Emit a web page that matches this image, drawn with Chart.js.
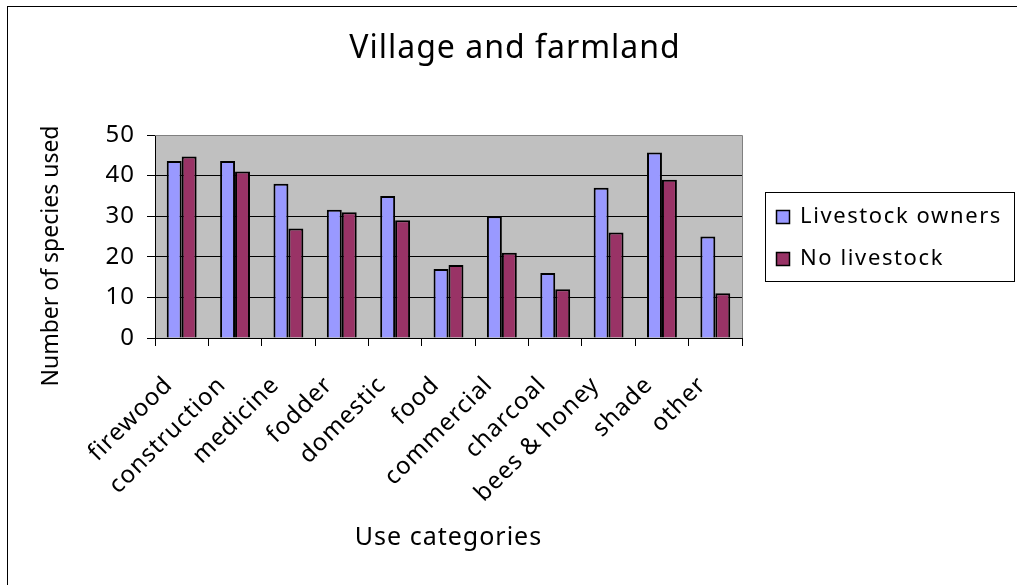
<!DOCTYPE html>
<html>
<head>
<meta charset="utf-8">
<script src="https://cdn.jsdelivr.net/npm/chart.js@4"></script>
<style>
    html, body { margin: 0; padding: 0; background: #fff; overflow: hidden; }
    #wrap { position: relative; width: 1017px; height: 585px; }
</style>
</head>
<body>
<div id="wrap"><canvas id="useChart" width="1017" height="585"></canvas></div>
<script>
// Data
const categories = ['firewood', 'construction', 'medicine', 'fodder', 'domestic', 'food',
    'commercial', 'charcoal', 'bees & honey', 'shade', 'other'];
const livestockOwners = [43.6, 43.6, 38, 31.6, 35, 17, 30, 16, 37, 45.7, 25];
const noLivestock = [44.7, 41, 27, 31, 29, 18, 21, 12, 26, 39, 11];
const yTicks = [0, 10, 20, 30, 40, 50];
const chartTitle = 'Village and farmland';
const yTitle = 'Number of species used';

const colors = {
    owners: '#9999FF',
    none: '#993366',
    plotBg: '#C0C0C0',
    border: '#808080',
    text: '#000000'
};
const FONT = "'Noto Sans', sans-serif";

// Plot background, outer frame, titles and legend box
const decorations = {
    id: 'decorations',
    beforeLayout(chart) {
        chart.ctx.letterSpacing = '1px';
    },
    beforeDraw(chart) {
        const { ctx, chartArea: a } = chart;
        ctx.letterSpacing = '1px';
        ctx.save();
        ctx.fillStyle = colors.plotBg;
        ctx.fillRect(a.left, a.top, a.right - a.left, a.bottom - a.top);
        ctx.strokeStyle = '#000';
        ctx.lineWidth = 1;
        ctx.strokeRect(7.5, 6.5, 1200, 800);
        ctx.restore();
    },
    afterDraw(chart) {
        const { ctx, chartArea: a } = chart;
        ctx.save();
        // top / right plot border
        ctx.strokeStyle = colors.border;
        ctx.lineWidth = 1;
        ctx.beginPath();
        ctx.moveTo(a.left, a.top + 0.5);
        ctx.lineTo(a.right + 0.5, a.top + 0.5);
        ctx.lineTo(a.right + 0.5, a.bottom);
        ctx.stroke();

        // chart title
        ctx.fillStyle = colors.text;
        ctx.font = '32px ' + FONT;
        ctx.textAlign = 'center';
        ctx.textBaseline = 'alphabetic';
        ctx.fillText(chartTitle, 515, 58);

        // y axis title
        ctx.font = '23px ' + FONT;
        ctx.letterSpacing = '0px';
        ctx.textBaseline = 'middle';
        ctx.translate(51, 256);
        ctx.rotate(-Math.PI / 2);
        ctx.fillText(yTitle, 0, 0);
        ctx.setTransform(1, 0, 0, 1, 0, 0);

        // legend
        ctx.strokeStyle = '#000';
        ctx.strokeRect(765.5, 192.5, 249, 89);
        ctx.font = '22px ' + FONT;
        ctx.letterSpacing = '1.6px';
        ctx.textAlign = 'left';
        ctx.textBaseline = 'alphabetic';
        const rows = [223, 265];
        chart.data.datasets.forEach((ds, i) => {
            const y = rows[i];
            ctx.fillStyle = ds.backgroundColor;
            ctx.fillRect(776, y - 13, 13, 13);
            ctx.strokeStyle = '#000';
            ctx.lineWidth = 1.5;
            ctx.strokeRect(776.5, y - 12.5, 13, 13);
            ctx.fillStyle = colors.text;
            ctx.fillText(ds.label, 800, y);
        });
        ctx.restore();
    }
};

new Chart(document.getElementById('useChart'), {
    type: 'bar',
    data: {
        labels: categories,
        datasets: [{
            label: 'Livestock owners',
            data: livestockOwners,
            backgroundColor: colors.owners,
            borderColor: '#000',
            borderWidth: 2
        }, {
            label: 'No livestock',
            data: noLivestock,
            backgroundColor: colors.none,
            borderColor: '#000',
            borderWidth: 2
        }]
    },
    options: {
        responsive: false,
        animation: false,
        categoryPercentage: 0.56,
        barPercentage: 1,
        layout: { padding: { left: 0, top: 135, right: 275, bottom: 0 } },
        plugins: {
            legend: { display: false },
            tooltip: { enabled: false },
            title: { display: false }
        },
        scales: {
            x: {
                grid: {
                    offset: true,
                    drawOnChartArea: false,
                    drawTicks: true,
                    tickLength: 8,
                    color: '#000'
                },
                border: { color: '#000', width: 1 },
                ticks: {
                    color: colors.text,
                    font: { family: FONT, size: 24 },
                    minRotation: 45,
                    maxRotation: 45,
                    autoSkip: false,
                    padding: 25,
                    labelOffset: -13
                },
                title: {
                    display: true,
                    text: 'Use categories',
                    color: colors.text,
                    font: { family: FONT, size: 25 },
                    padding: { top: 0, bottom: 32 }
                },
                afterFit(scale) { scale.height = 247; }
            },
            y: {
                min: 0,
                max: 50,
                afterBuildTicks(scale) { scale.ticks = yTicks.map(v => ({ value: v })); },
                grid: {
                    color: ctx => (ctx.tick && ctx.tick.value === 50 ? colors.border : '#000'),
                    tickColor: '#000',
                    tickLength: 8,
                    lineWidth: 1
                },
                border: { color: '#000', width: 1 },
                ticks: {
                    color: colors.text,
                    font: { family: FONT, size: 24 },
                    padding: 12
                },
                afterFit(scale) { scale.width = 155; }
            }
        }
    },
    plugins: [decorations]
});
</script>
</body>
</html>
